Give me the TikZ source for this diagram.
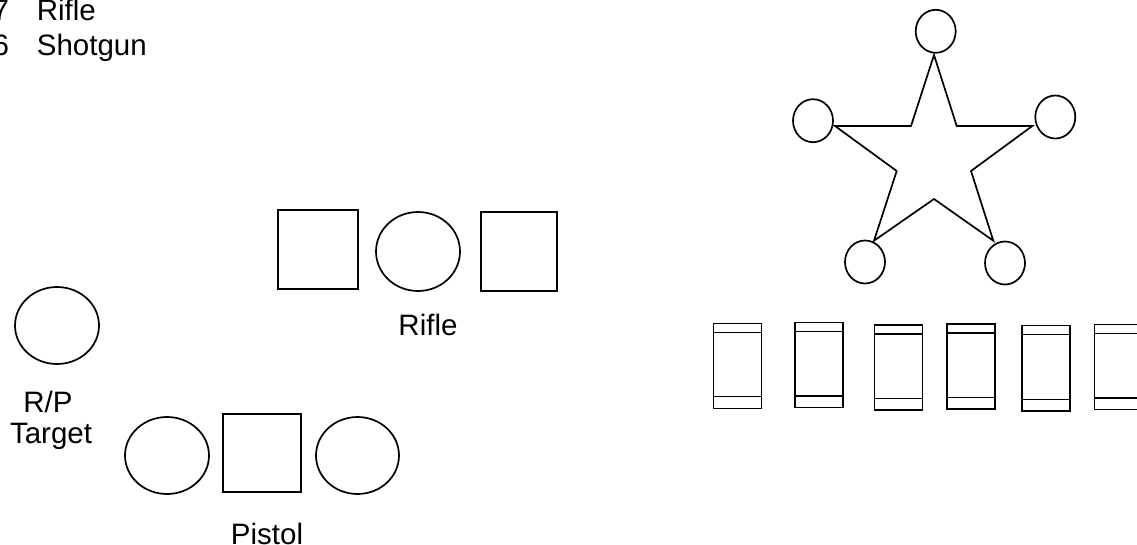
\documentclass[tikz,border=0pt]{standalone}
\usepackage{fontspec}
\setmainfont{Liberation Sans}
\usetikzlibrary{shapes.geometric}
\begin{document}
\begin{tikzpicture}[x=1pt,y=-1pt,line width=1.7pt,
  lbl/.style={inner sep=0pt,font=\fontsize{29.5}{34}\selectfont},
  oval/.style={draw,ellipse,inner sep=0pt,minimum width=#1},
  sq/.style={draw,rectangle,inner sep=0pt},
  pin/.style={draw,ellipse,inner sep=0pt,minimum width=40pt,minimum height=43pt}]
\useasboundingbox (0,0) rectangle (1137,544);
% legend
\node[lbl,anchor=base east] (n7) at (10,20) {7};
\node[lbl,anchor=base west] (t7) at (36,20) {Rifle};
\node[lbl,anchor=base east] (n6) at (10,55) {6};
\node[lbl,anchor=base west] (t6) at (36,55) {Shotgun};
% rifle group
\node[sq,minimum width=80pt,minimum height=79pt] (rs1) at (318,249.5) {};
\node[oval=84pt,minimum height=79pt] (rc) at (418,251.5) {};
\node[sq,minimum width=76pt,minimum height=79pt] (rs2) at (519,251.5) {};
\node[lbl,anchor=base] (rl) at (428,335) {Rifle};
% R/P target
\node[oval=84pt,minimum height=77pt] (rp) at (57,325.5) {};
\node[lbl,anchor=base] (rpl1) at (48,412) {R/P};
\node[lbl,anchor=base] (rpl2) at (51,443) {Target};
% pistol group
\node[oval=84pt,minimum height=77pt] (pc1) at (167,455.5) {};
\node[sq,minimum width=78pt,minimum height=78pt] (ps) at (262,453) {};
\node[oval=83pt,minimum height=77pt] (pc2) at (357.5,455.5) {};
\node[lbl,anchor=base] (pl) at (267,544) {Pistol};
% star with circles
\node[pin] (ct) at (935.7,31.3) {};
\node[pin] (cl) at (813,120.7) {};
\node[pin] (cr) at (1055.3,117) {};
\node[pin] (cbl) at (865,262) {};
\node[pin] (cbr) at (1005,263) {};
\coordinate (st) at (934,55);
\coordinate (sl) at (835,126);
\coordinate (sr) at (1032.3,126);
\coordinate (sbl) at (874,240.7);
\coordinate (sbr) at (993.3,240.7);
\draw[line join=miter] (st) -- (911,126) -- (sl) -- (896.7,171) -- (sbl) -- (934,199)
  -- (sbr) -- (971,171) -- (sr) -- (956.7,126) -- cycle;
% rectangles
\foreach \i/\xa/\xb/\ya/\yb/\la/\lb in {
  1/712.5/760.5/322.5/407.5/332.5/396.5,
  2/794/842/321.5/406.5/331.5/396,
  3/873.5/921.5/324/409/334/398.5,
  4/946/994/323/408/333/397.5,
  5/1021/1069/324.5/410/334.5/399.5,
  6/1093.5/1141.5/323.5/408.5/333.5/398}{
  \node[sq,anchor=north west,minimum width=\xb-\xa,minimum height=\yb-\ya] (r\i) at (\xa,\ya) {};
  \draw (r\i.west |- 0,\la) -- (r\i.east |- 0,\la);
  \draw (r\i.west |- 0,\lb) -- (r\i.east |- 0,\lb);
}
\end{tikzpicture}
\end{document}
